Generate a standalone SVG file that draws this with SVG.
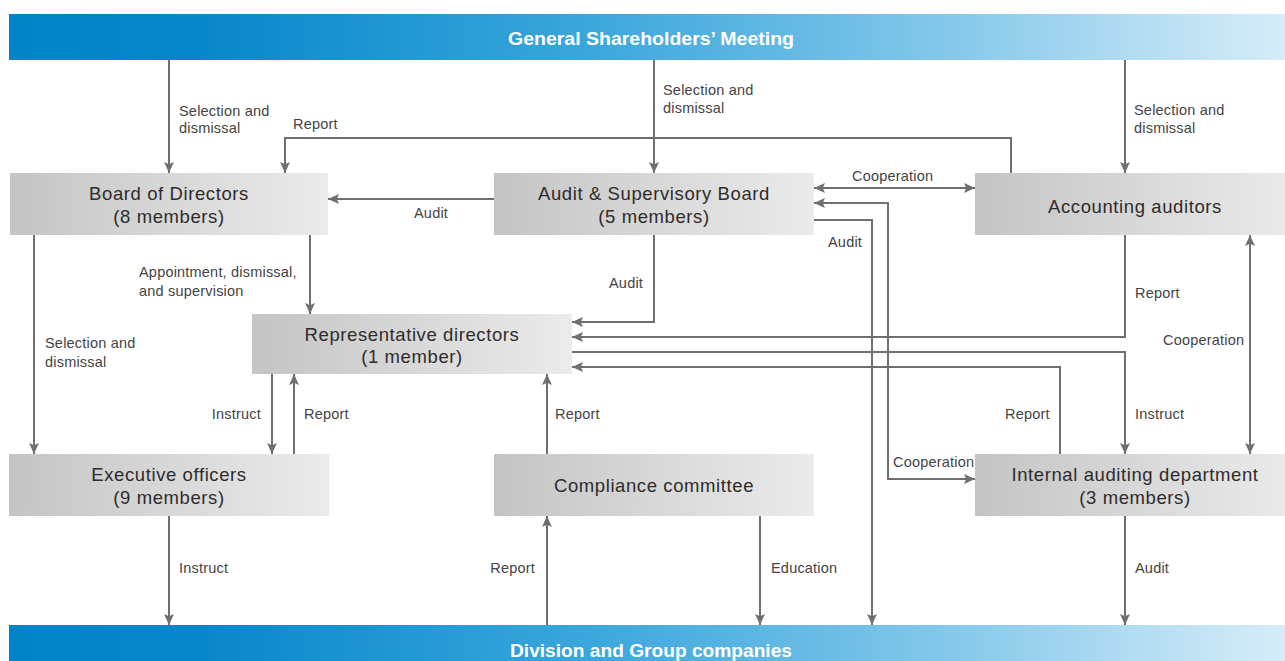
<svg xmlns="http://www.w3.org/2000/svg" width="1285" height="661" viewBox="0 0 1285 661">
  <defs>
    <linearGradient id="barFill" x1="0" y1="0" x2="1" y2="0">
      <stop offset="0" stop-color="#0084c8"/>
      <stop offset="0.15" stop-color="#0787ca"/>
      <stop offset="0.45" stop-color="#3aa6dc"/>
      <stop offset="0.72" stop-color="#7fc6ea"/>
      <stop offset="1" stop-color="#d6edf8"/>
    </linearGradient>
    <linearGradient id="nodeFill" x1="0" y1="0" x2="1" y2="0">
      <stop offset="0" stop-color="#c4c4c4"/>
      <stop offset="1" stop-color="#ebebeb"/>
    </linearGradient>
    <marker id="arrow" markerUnits="userSpaceOnUse" markerWidth="11" markerHeight="11" viewBox="0 0 10 10" refX="10" refY="5" orient="auto-start-reverse">
      <path d="M0,0.5 L10,5 L0,9.5 L2,5 z" fill="#6f6f6f"/>
    </marker>
    <style>
      .bar { fill: url(#barFill); }
      .bar-text { font-family: "Liberation Sans Narrow", "Liberation Sans", Arial, sans-serif; font-weight: bold; font-size: 19px; fill: #ffffff; text-anchor: middle; }
      .node rect { fill: url(#nodeFill); }
      .node text { font-family: "Liberation Sans", Arial, sans-serif; font-size: 18.5px; letter-spacing: 0.6px; fill: #2f2b2b; text-anchor: middle; }
      .conn path { fill: none; stroke: #6f6f6f; stroke-width: 2; }
      .one path { marker-end: url(#arrow); }
      .two path { marker-start: url(#arrow); marker-end: url(#arrow); }
      .label { font-family: "Liberation Sans", Arial, sans-serif; font-size: 14.5px; letter-spacing: 0.2px; fill: #444444; }
      .label.end { text-anchor: end; }
    </style>
  </defs>

  <rect width="1285" height="661" fill="#ffffff"/>

  <!-- top and bottom bands -->
  <g id="shareholders">
    <rect class="bar" x="9" y="14" width="1276" height="46"/>
    <text class="bar-text" x="651" y="45" textLength="286" lengthAdjust="spacingAndGlyphs">General Shareholders’ Meeting</text>
  </g>
  <g id="group-companies">
    <rect class="bar" x="9" y="625" width="1276" height="40"/>
    <text class="bar-text" x="651" y="657" textLength="282" lengthAdjust="spacingAndGlyphs">Division and Group companies</text>
  </g>

  <!-- connectors -->
  <g id="connectors" class="conn">
    <g class="one">
      <path d="M169,60 V173"/>
      <path d="M654,60 V173"/>
      <path d="M1125,60 V173"/>
      <path d="M1011,173 V138 H285 V173"/>
      <path d="M494,199 H328"/>
      <path d="M814,220 H872 V625"/>
      <path d="M654,235 V322 H572"/>
      <path d="M1125,235 V337 H572"/>
      <path d="M572,352 H1125 V454"/>
      <path d="M1060,454 V367 H572"/>
      <path d="M310,235 V314"/>
      <path d="M34,235 V454"/>
      <path d="M272,374 V454"/>
      <path d="M294,454 V374"/>
      <path d="M547,454 V374"/>
      <path d="M169,516 V625"/>
      <path d="M547,625 V516"/>
      <path d="M760,516 V625"/>
      <path d="M1125,516 V625"/>
    </g>
    <g class="two">
      <path d="M814,188 H975"/>
      <path d="M814,203 H888 V479 H975"/>
      <path d="M1250,235 V454"/>
    </g>
  </g>

  <!-- connector labels -->
  <g id="labels">
    <text class="label" x="179" y="116">Selection and</text>
    <text class="label" x="179" y="133">dismissal</text>
    <text class="label" x="663" y="95">Selection and</text>
    <text class="label" x="663" y="113">dismissal</text>
    <text class="label" x="1134" y="115">Selection and</text>
    <text class="label" x="1134" y="133">dismissal</text>
    <text class="label" x="293" y="129">Report</text>
    <text class="label" x="414" y="218">Audit</text>
    <text class="label" x="852" y="181">Cooperation</text>
    <text class="label" x="828" y="247">Audit</text>
    <text class="label" x="609" y="288">Audit</text>
    <text class="label" x="139" y="277">Appointment, dismissal,</text>
    <text class="label" x="139" y="296">and supervision</text>
    <text class="label" x="45" y="348">Selection and</text>
    <text class="label" x="45" y="367">dismissal</text>
    <text class="label" x="1135" y="298">Report</text>
    <text class="label" x="1163" y="345">Cooperation</text>
    <text class="label end" x="261" y="419">Instruct</text>
    <text class="label" x="304" y="419">Report</text>
    <text class="label" x="555" y="419">Report</text>
    <text class="label" x="1005" y="419">Report</text>
    <text class="label" x="1135" y="419">Instruct</text>
    <text class="label" x="893" y="467">Cooperation</text>
    <text class="label" x="179" y="573">Instruct</text>
    <text class="label end" x="535" y="573">Report</text>
    <text class="label" x="771" y="573">Education</text>
    <text class="label" x="1135" y="573">Audit</text>
  </g>

  <!-- organisation bodies -->
  <g id="board-of-directors" class="node">
    <rect x="10" y="173" width="318" height="62"/>
    <text x="169" y="200">Board of Directors</text>
    <text x="169" y="222.5">(8 members)</text>
  </g>
  <g id="audit-supervisory-board" class="node">
    <rect x="494" y="173" width="320" height="62"/>
    <text x="654" y="199.5">Audit &amp; Supervisory Board</text>
    <text x="654" y="223">(5 members)</text>
  </g>
  <g id="accounting-auditors" class="node">
    <rect x="975" y="173" width="320" height="62"/>
    <text x="1135" y="213">Accounting auditors</text>
  </g>
  <g id="representative-directors" class="node">
    <rect x="252" y="314" width="320" height="60"/>
    <text x="412" y="340.5">Representative directors</text>
    <text x="412" y="363">(1 member)</text>
  </g>
  <g id="executive-officers" class="node">
    <rect x="9" y="454" width="320" height="62"/>
    <text x="169" y="480.5">Executive officers</text>
    <text x="169" y="503.5">(9 members)</text>
  </g>
  <g id="compliance-committee" class="node">
    <rect x="494" y="454" width="320" height="62"/>
    <text x="654" y="492">Compliance committee</text>
  </g>
  <g id="internal-auditing" class="node">
    <rect x="975" y="454" width="320" height="62"/>
    <text x="1135" y="480.5">Internal auditing department</text>
    <text x="1135" y="503.5">(3 members)</text>
  </g>
</svg>
